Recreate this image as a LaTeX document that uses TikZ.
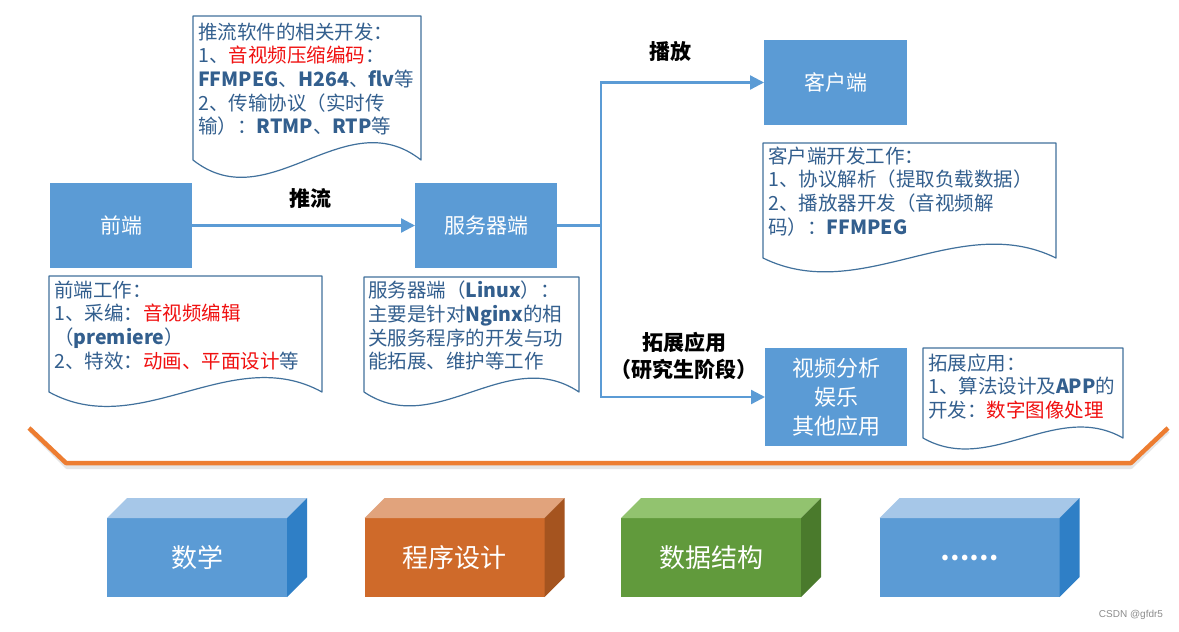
\documentclass[tikz,border=0pt]{standalone}
\usepackage{fontspec}
\setmainfont{Noto Sans CJK SC}
\newfontfamily\wmfont{Liberation Sans}
\usetikzlibrary{arrows.meta}
\definecolor{boxblue}{HTML}{5B9BD5}
\definecolor{docline}{HTML}{41719C}
\definecolor{doctext}{HTML}{335F8E}
\definecolor{redtxt}{HTML}{F01010}
\definecolor{orangeline}{HTML}{ED7D31}
\definecolor{bF}{HTML}{5B9BD5}
\definecolor{bT}{HTML}{A6C7E8}
\definecolor{bS}{HTML}{2F7FC6}
\definecolor{oF}{HTML}{CF6A2A}
\definecolor{oT}{HTML}{E1A37C}
\definecolor{oS}{HTML}{A5541F}
\definecolor{gF}{HTML}{619A3C}
\definecolor{gT}{HTML}{92C36F}
\definecolor{gS}{HTML}{4A7A2C}
\newcommand\rd[1]{\textcolor{redtxt}{#1}}
\newcommand\lt[1]{\textbf{#1}}
\newcommand\docshape[5]{%
  \draw[docshp] (#1,#2) -- (#3,#2) -- (#3,#4)
    .. controls ({#3-(#3-#1)/3},{#4-#5}) and ({#1+(#3-#1)/3},{#4+#5}) .. (#1,#4) -- cycle;}
\newcommand\blockbox[7]{%
  \node[blockfront, fill=#4] (#1) at (#2,#3) {#7};
  \fill[#5] (#1.north west) -- (#1.north east) -- ++(20,-20) -- ++(-180,0) -- cycle;
  \fill[#6] (#1.north east) -- ++(20,-20) -- ++(0,79) -- (#1.south east) -- cycle;}
\begin{document}
\begin{tikzpicture}[x=1pt,y=-1pt,
  bluebox/.style={fill=boxblue, text=white, inner sep=0pt, outer sep=0pt,
    font=\fontsize{21pt}{26pt}\selectfont},
  conn/.style={draw=boxblue, line width=2.3pt},
  arr/.style={conn, -{Triangle[length=14pt,width=14pt]}},
  lbl/.style={font=\bfseries\fontsize{21pt}{27pt}\selectfont, text=black, inner sep=0pt},
  docshp/.style={draw=docline, fill=white, line width=1.2pt, line join=round},
  doctxt/.style={anchor=north west, inner sep=0pt, align=left, text=doctext,
    font=\fontsize{19.5pt}{23.7pt}\selectfont},
  blockfront/.style={minimum width=180pt, minimum height=79pt, inner sep=0pt, outer sep=0pt,
    text=white, font=\fontsize{26pt}{30pt}\selectfont}]
\useasboundingbox (0,0) rectangle (1179,632);
\fill[white] (0,0) rectangle (1179,632);

% main boxes
\node[bluebox, minimum width=142pt, minimum height=85pt] (fe) at (121,225.5) {前端};
\node[bluebox, minimum width=142pt, minimum height=85pt] (srv) at (486,225.5) {服务器端};
\node[bluebox, minimum width=143pt, minimum height=85pt] (cli) at (835.5,82.5) {客户端};
\node[bluebox, minimum width=142pt, minimum height=98pt, align=center,
  font=\fontsize{22pt}{29pt}\selectfont] (vid) at (836,397) {视频分析\\娱乐\\其他应用};

% connectors
\coordinate (jn) at (601,225.5);
\draw[arr] (fe) -- (srv);
\draw[conn] (srv.east) -- (jn);
\draw[arr] (jn) |- (cli.west);
\draw[arr] (jn) |- (vid.west);

% labels
\node[lbl] (push) at (310,199) {推流};
\node[lbl] (play) at (670,51) {播放};
\node[lbl, align=center] (ext) at (684,356) {拓展应用\\（研究生阶段）};

% document shapes
\docshape{193}{16}{421}{160}{60}
\node[doctxt] (t1) at (198,22.5) {推流软件的相关开发：\\1、\rd{音视频压缩编码}：\\\lt{FFMPEG}、\lt{H264}、\lt{flv}等\\2、传输协议（实时传\\输）：\lt{RTMP}、\lt{RTP}等};

\docshape{49}{276}{322}{392}{50}
\node[doctxt] (t2) at (54,280.5) {前端工作：\\1、采编：\rd{音视频编辑}\\（\lt{premiere}）\\2、特效：\rd{动画、平面设计}等};

\docshape{364}{277}{579}{392}{48}
\node[doctxt] (t3) at (368,281) {服务器端（\lt{Linux}）：\\主要是针对\lt{Nginx}的相\\关服务程序的开发与功\\能拓展、维护等工作};

\docshape{763}{143}{1056}{258}{48}
\node[doctxt] (t4) at (768,146.5) {客户端开发工作：\\1、协议解析（提取负载数据）\\2、播放器开发（音视频解\\码）：\lt{FFMPEG}};

\docshape{923}{348}{1123}{438}{38}
\node[doctxt] (t5) at (928,353.5) {拓展应用：\\1、算法设计及\lt{APP}的\\开发：\rd{数字图像处理}};

% orange base line
\draw[black!10, line width=4pt, line join=round] (31,431) -- (67,467) -- (1131,467) -- (1168,431);
\draw[orangeline, line width=4.5pt, line join=round] (29,428) -- (66,463) -- (1131,463) -- (1168,428);

% blocks
\blockbox{math}{197}{557.5}{bF}{bT}{bS}{数学}
\blockbox{prog}{454.5}{557.5}{oF}{oT}{oS}{程序设计}
\blockbox{ds}{711}{557.5}{gF}{gT}{gS}{数据结构}
\blockbox{more}{969.5}{557.5}{bF}{bT}{bS}{\bfseries ……}

% watermark
\node[text=black!45, font=\wmfont\fontsize{10pt}{12pt}\selectfont, inner sep=0pt] (wm) at (1131,615) {CSDN @gfdr5};
\end{tikzpicture}
\end{document}
